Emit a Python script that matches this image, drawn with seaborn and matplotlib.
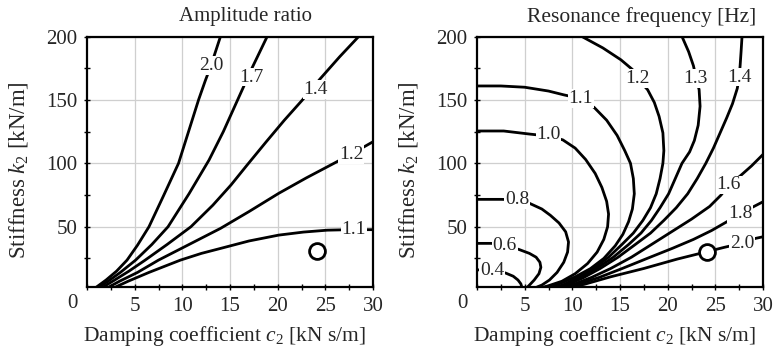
import matplotlib
matplotlib.use("Agg")
import matplotlib.pyplot as plt
import seaborn as sns
from matplotlib.ticker import MultipleLocator

# ---------------- data ----------------
# Left panel: amplitude ratio contours  (c2 [kN s/m], k2 [kN/m])
amp_levels = ["2.0", "1.7", "1.4", "1.2", "1.1"]
amp20_c = [1.0, 2.0, 3.1, 4.2, 5.3, 6.5, 8.0, 9.6, 10.65, 11.7, 12.4, 13.0, 14.0]
amp20_k = [2.5, 8, 15, 23.7, 35.5, 50, 74, 100, 125, 150, 165, 177, 200]
amp17_c = [1.3, 2.2, 3.5, 5.1, 6.8, 8.5, 10.7, 12.8, 14.3, 15.8, 17.3, 18.9]
amp17_k = [2.5, 7, 14, 23.7, 36, 50, 76, 102.6, 125, 150, 175, 200]
amp14_c = [1.7, 2.9, 4.4, 6.1, 8.4, 10.9, 13.2, 15.1, 16.8, 18.8, 20.7, 22.6, 24.5, 26.5, 28.5]
amp14_k = [2.5, 8, 15, 23.7, 36, 50, 67, 82.9, 98.7, 117, 134, 150, 167, 184, 200]
amp12_c = [2.3, 3.4, 5.3, 7.5, 10.7, 14.0, 17.0, 20.1, 23.0, 25.9, 28.0, 30.0]
amp12_k = [2.5, 7, 14, 23.7, 36, 48.7, 62, 76.3, 88.5, 100, 108.5, 117]
amp11_c = [3.0, 4.3, 6.5, 9.8, 12.0, 14.0, 17.0, 20.1, 22.7, 25.2, 27.5, 30.0]
amp11_k = [2.5, 7, 14, 23.7, 29, 32.9, 38.8, 43.4, 45.8, 47.3, 47.7, 47.7]
amp_label_c = [13.0, 17.2, 24.0, 27.7, 28.0]
amp_label_k = [177, 168, 158, 107, 47.5]
amp_marker = (24.1, 31.0)

# Right panel: resonance frequency contours [Hz]
res_levels = ["0.4", "0.6", "0.8", "1.0", "1.1", "1.2", "1.3", "1.4", "1.6", "1.8", "2.0"]
res04_c = [0.0, 1.6, 3.0, 3.8, 4.3, 4.6, 4.7]
res04_k = [16, 15.8, 13.5, 11, 8, 5, 2.5]
res06_c = [0.0, 1.5, 2.9, 4.4, 5.5, 6.2, 6.6, 6.7, 6.5, 6.0, 5.5, 5.3]
res06_k = [36.9, 36.9, 35.5, 32.1, 29, 26, 22, 18, 13, 8, 4, 2.5]
res08_c = [0.0, 2.5, 4.1, 5.5, 6.8, 7.7, 8.6, 9.3, 9.6, 9.5, 9.1, 8.4, 7.6, 6.8, 6.3]
res08_k = [71.6, 71.6, 71.3, 68.5, 64, 59, 53, 46, 38, 30, 22, 14, 8, 4, 2.5]
res10_c = [0.0, 2.8, 5.6, 7.5, 9.0, 10.3, 11.4, 12.4, 13.1, 13.6, 13.8, 13.7, 13.3,
           12.6, 11.6, 10.3, 8.9, 7.5, 7.0]
res10_k = [125.5, 125.5, 123, 121.5, 118.5, 112, 103, 92, 81, 70, 60, 50, 40,
           30, 21, 13, 7, 3.5, 2.5]
res11_c = [0.0, 2.5, 5.0, 7.5, 9.1, 10.9, 12.3, 13.6, 14.7, 15.5, 16.1, 16.4, 16.5,
           16.3, 15.9, 15.3, 14.5, 13.3, 11.9, 10.3, 8.8, 7.8]
res11_k = [161, 161, 160, 157, 154, 151, 144, 134, 122, 110, 100, 88, 76,
           64, 54, 44, 35, 25, 17, 10.5, 5.5, 2.5]
res12_c = [11.0, 13.2, 15.1, 16.3, 16.8, 17.9, 18.6, 19.1, 19.5, 19.6, 19.5, 19.2,
           18.8, 18.2, 17.4, 16.4, 15.2, 13.8, 12.2, 10.6, 9.1, 8.4]
res12_k = [200, 191, 181.6, 174, 167, 158, 148, 137, 124, 110, 100, 88,
           76, 65, 55, 45, 36, 26, 17, 10, 4.5, 2.5]
res13_c = [21.5, 22.2, 22.7, 23.0, 23.3, 23.4, 23.2, 22.8, 22.3, 21.5, 20.8, 20.1,
           19.2, 18.3, 17.2, 15.9, 14.3, 12.5, 10.9, 9.4, 8.6]
res13_k = [200, 188, 177, 167, 158, 145, 130, 118, 109, 100, 88, 76,
           65, 55, 45, 36, 26, 17, 10, 4.5, 2.5]
res14_c = [27.8, 27.7, 27.6, 27.5, 27.3, 26.8, 26.2, 25.5, 24.8, 24.0, 23.1, 22.1,
           20.9, 19.6, 18.2, 16.6, 14.8, 12.9, 11.2, 9.6, 8.8]
res14_k = [200, 188, 177, 168, 159, 147, 136, 124, 112, 100, 88, 76,
           65, 55, 45, 36, 26, 17, 10, 4.5, 2.5]
res16_c = [9.1, 10.1, 12.0, 14.0, 16.2, 18.3, 20.4, 22.5, 24.4, 25.6, 26.4, 27.6, 28.8, 30.0]
res16_k = [2.5, 4.5, 10, 17, 26, 36, 46, 56, 66, 75, 83, 90, 98, 107]
res18_c = [9.3, 10.5, 12.8, 15.2, 18.0, 20.5, 22.7, 24.6, 26.2, 27.6, 29.0, 30.0]
res18_k = [2.5, 4.5, 10, 17, 25.5, 33, 40, 47, 53.9, 60.5, 65.8, 69.7]
res20_c = [9.6, 11.2, 14.0, 17.5, 21.0, 24.1, 25.9, 27.8, 29.2, 30.0]
res20_k = [2.5, 4.5, 10.5, 17.1, 24.5, 30.3, 33.7, 37, 40.8, 42.1]
res_label_c = [1.6, 2.9, 4.2, 7.5, 10.9, 16.8, 22.9, 27.5, 26.4, 27.6, 27.8]
res_label_k = [15.8, 35.5, 71.3, 122.4, 151.3, 167, 167, 168, 83, 60.5, 36.9]
res_marker = (24.1, 30.3)

x_ticks = [5, 10, 15, 20, 25, 30]
y_ticks = [50, 100, 150, 200]
titles = ["Amplitude ratio", "Resonance frequency [Hz]"]
xlabel = "Damping coefficient $c_2$ [kN s/m]"
ylabel = "Stiffness $k_2$ [kN/m]"

# ---------------- style ----------------
sns.set_style("ticks")
plt.rcParams["font.family"] = ["Liberation Serif", "DejaVu Serif"]
plt.rcParams["mathtext.fontset"] = "custom"
plt.rcParams["mathtext.rm"] = "Liberation Serif"
plt.rcParams["mathtext.it"] = "Liberation Serif:italic"

TICK_FS = 15
W, H = 774, 354
fig = plt.figure(figsize=(W / 100, H / 100), dpi=100)
ax_l = fig.add_axes([87 / W, (H - 287) / H, 286 / W, 250.5 / H])
ax_r = fig.add_axes([477 / W, (H - 287) / H, 286 / W, 250.5 / H])


def style_axes(ax):
    ax.set_xlim(0, 30)
    ax.set_ylim(2.5, 200)
    ax.set_xticks(x_ticks)
    ax.set_yticks(y_ticks)
    ax.xaxis.set_minor_locator(MultipleLocator(2.5))
    ax.yaxis.set_minor_locator(MultipleLocator(25))
    ax.grid(True, which="major", color="#cfcfcf", lw=0.9)
    ax.set_axisbelow(True)
    for s in ax.spines.values():
        s.set_color("black")
        s.set_linewidth(1.6)
    ax.tick_params(axis="both", which="both", direction="inout", length=4, width=1.0,
                   color="black", labelsize=TICK_FS, top=False, right=False)
    ax.tick_params(axis="x", which="major", pad=5)
    ax.tick_params(axis="y", which="major", pad=5)
    ax.set_xlabel("")
    ax.set_ylabel("")


def draw(ax, curves, labels, lab_c, lab_k, marker):
    for (c, k) in curves:
        sns.lineplot(x=c, y=k, sort=False, estimator=None, ax=ax, color="black",
                     lw=2.0, zorder=3)
    for t, x, y in zip(labels, lab_c, lab_k):
        ax.text(x, y, t, ha="center", va="center", fontsize=14, zorder=4,
                bbox=dict(fc="white", ec="none", pad=0.6))
    sns.scatterplot(x=[marker[0]], y=[marker[1]], ax=ax, s=130, facecolor="white",
                    edgecolor="black", linewidth=2.0, zorder=5)


draw(ax_l, [(amp20_c, amp20_k), (amp17_c, amp17_k), (amp14_c, amp14_k),
            (amp12_c, amp12_k), (amp11_c, amp11_k)],
     amp_levels, amp_label_c, amp_label_k, amp_marker)
draw(ax_r, [(res04_c, res04_k), (res06_c, res06_k), (res08_c, res08_k),
            (res10_c, res10_k), (res11_c, res11_k), (res12_c, res12_k),
            (res13_c, res13_k), (res14_c, res14_k), (res16_c, res16_k),
            (res18_c, res18_k), (res20_c, res20_k)],
     res_levels, res_label_c, res_label_k, res_marker)

for ax in (ax_l, ax_r):
    style_axes(ax)

# titles, axis labels, corner "0"
fig.text(245 / W, 1 - 17 / H, titles[0], ha="center", va="center", fontsize=15)
fig.text(642 / W, 1 - 17 / H, titles[1], ha="center", va="center", fontsize=15.5)
fig.text(224 / W, 1 - 336 / H, xlabel, ha="center", va="center", fontsize=15.5)
fig.text(614 / W, 1 - 336 / H, xlabel, ha="center", va="center", fontsize=15.5)
fig.text(19 / W, 1 - 170 / H, ylabel, ha="center", va="center", fontsize=16.5, rotation=90)
fig.text(409 / W, 1 - 170 / H, ylabel, ha="center", va="center", fontsize=16.5, rotation=90)
fig.text(72 / W, 1 - 303 / H, "0", ha="center", va="center", fontsize=TICK_FS)
fig.text(462 / W, 1 - 303 / H, "0", ha="center", va="center", fontsize=TICK_FS)

fig.savefig("out.png", dpi=100)
